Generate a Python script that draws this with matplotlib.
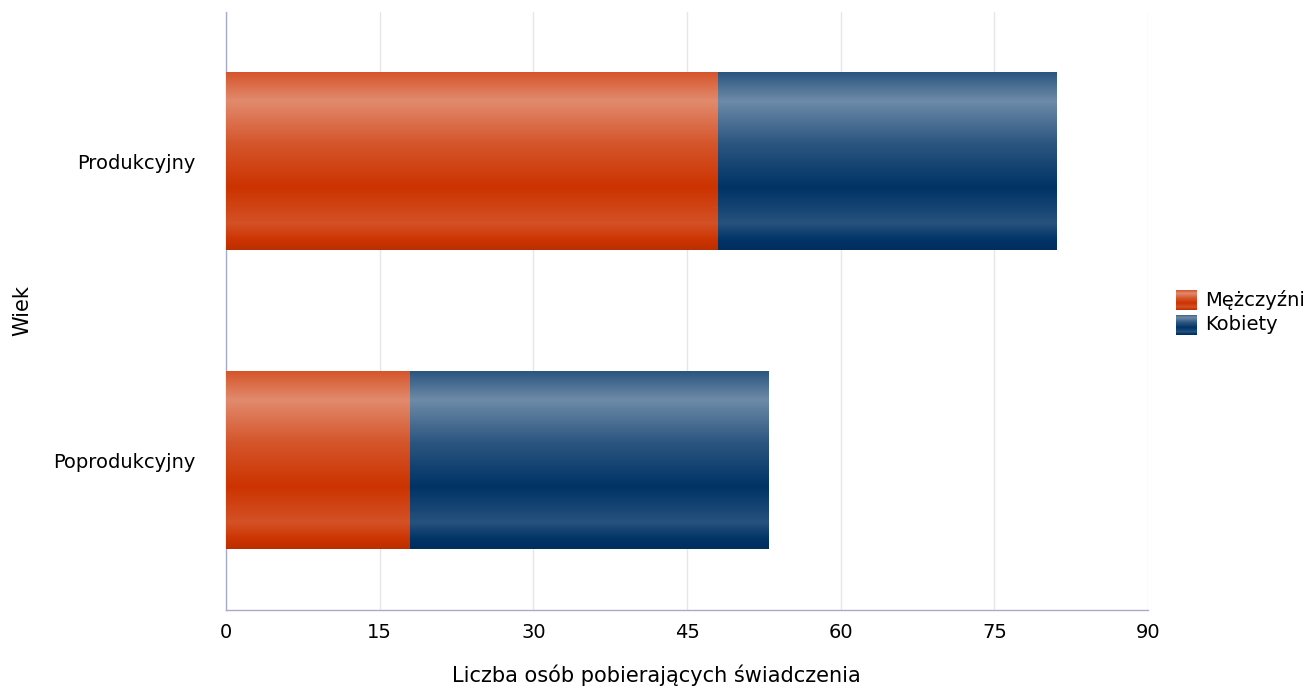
import numpy as np
import matplotlib
matplotlib.use("Agg")
import matplotlib.pyplot as plt

categories = ["Produkcyjny", "Poprodukcyjny"]
series_names = ["Mężczyźni", "Kobiety"]
men = [48, 18]
women = [33, 35]
xticks = [0, 15, 30, 45, 60, 75, 90]
xlabel = "Liczba osób pobierających świadczenia"
ylabel = "Wiek"

base_colors = [(204, 51, 0), (0, 51, 102)]

# shading profile along bar height (t from top=0 to bottom=1): >0 -> towards white, <0 -> towards black
prof_t = [0.0, 0.16, 0.40, 0.65, 0.85, 1.0]
prof_f = [0.17, 0.43, 0.17, 0.0, 0.15, -0.08]


def gradient_image(rgb, n=200):
    t = np.linspace(0, 1, n)
    f = np.interp(t, prof_t, prof_f)
    c = np.array(rgb, dtype=float) / 255.0
    img = np.zeros((n, 1, 3))
    for i, fi in enumerate(f):
        if fi >= 0:
            img[i, 0] = c + (1 - c) * fi
        else:
            img[i, 0] = c * (1 + fi)
    return img


fig = plt.figure(figsize=(13.11, 6.9), dpi=100)
ax = fig.add_axes([226 / 1311, 80 / 690, 922 / 1311, 598 / 690])

bar_h = 0.595
ypos = np.arange(len(categories))
for i, cat in enumerate(categories):
    left = 0
    for s, vals in enumerate([men, women]):
        v = vals[i]
        img = gradient_image(base_colors[s])
        ax.imshow(img, extent=[left, left + v, ypos[i] + bar_h / 2, ypos[i] - bar_h / 2],
                  aspect="auto", interpolation="bilinear", zorder=3)
        left += v

ax.set_xlim(0, 90)
ax.set_ylim(len(categories) - 0.5, -0.5)
ax.set_xticks(xticks)
ax.set_xticklabels([str(x) for x in xticks], fontsize=14)
ax.set_yticks(ypos)
ax.set_yticklabels(categories, fontsize=14)
ax.tick_params(axis="y", length=0, pad=22)
ax.tick_params(axis="x", length=0, pad=9)
ax.grid(axis="x", color="#e6e6e6", linewidth=1, zorder=0)
ax.set_axisbelow(True)
for sp in ["top", "right"]:
    ax.spines[sp].set_visible(False)
for sp in ["left", "bottom"]:
    ax.spines[sp].set_color("#a9a9c8")
    ax.spines[sp].set_linewidth(1)
ax.set_xlabel(xlabel, fontsize=15)
ax.set_ylabel(ylabel, fontsize=15)
ax.xaxis.label.set_va("center")
ax.yaxis.label.set_va("center")
ax.xaxis.set_label_coords((656 - 226) / 922, (610 - 675) / 598)
ax.yaxis.set_label_coords((22 - 226) / 922, 0.5)

# legend with gradient swatches
for k, name in enumerate(series_names):
    y0 = 290 + k * 25
    lax = fig.add_axes([1176 / 1311, (690 - y0 - 20) / 690, 21 / 1311, 20 / 690])
    lax.imshow(gradient_image(base_colors[k]), aspect="auto", interpolation="bilinear")
    lax.axis("off")
    fig.text(1205 / 1311, (690 - y0 - 10) / 690, name, fontsize=14, va="center", ha="left")

fig.savefig("out.png", dpi=100)
